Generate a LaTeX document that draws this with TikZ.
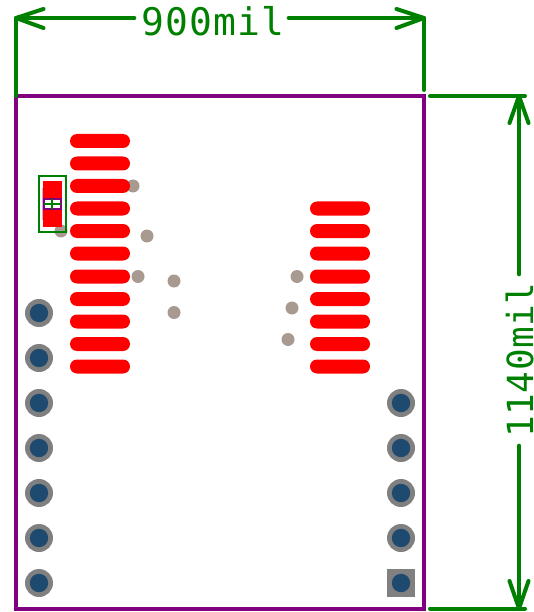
\documentclass[tikz,border=0pt]{standalone}
\usepackage{fontspec}
\newfontfamily\dimfont[LetterSpace=3]{DejaVu Sans Mono}
\newfontfamily\dimfontv[LetterSpace=1.5]{DejaVu Sans Mono}
\definecolor{dimgreen}{HTML}{008000}
\definecolor{outline}{HTML}{800080}
\definecolor{padred}{HTML}{FF0000}
\definecolor{ringgray}{HTML}{808080}
\definecolor{holeblue}{HTML}{1F4A70}
\definecolor{viagray}{HTML}{A89A90}
\tikzset{
  dimline/.style={draw=dimgreen,line width=4pt,line cap=round,line join=round},
  dimtext/.style={text=dimgreen,inner sep=0pt,anchor=base},
  boardedge/.style={draw=outline,line width=4pt,line join=miter},
  smdpad/.style={fill=padred,rounded corners=7pt},
  ring/.style={fill=ringgray},
  hole/.style={fill=holeblue},
  viadot/.style={fill=viagray},
}
\begin{document}
\begin{tikzpicture}[x=1pt,y=-1pt]
\useasboundingbox (0,0) rectangle (534,612);
% vias (under pads)
\foreach \x/\y in {133/186,147/236,61/231,138/276.5,174/281,174/312.5,297/276.5,292/308,288/339.5}
  \fill[viadot] (\x,\y) circle (6.5);
% SMD pads
\foreach \y in {141,163.5,186,208.5,231,253.5,276.5,299,321.5,344,366.5}
  \fill[smdpad] (70,\y-7) rectangle (130,\y+7);
\foreach \y in {208.5,231,253.5,276.5,299,321.5,344,366.5}
  \fill[smdpad] (310,\y-7) rectangle (370,\y+7);
% small part
\fill[padred] (43,181) rectangle (62,227);
\draw[draw=outline!35,line width=1pt] (42.5,188) -- (42.5,220);
\draw[fill=white,draw=outline,line width=1.2pt] (44,199) rectangle (61,209);
\draw[draw=dimgreen,line width=2pt] (39,176.5) rectangle (66,231.5);
\draw[draw=dimgreen,line width=1.8pt] (44,204) -- (61,204) (52,199) -- (52,209);
% through holes
\foreach \y in {313,358,403,448,493,538,583} {
  \fill[ring] (39,\y) circle (14);
  \fill[hole] (39,\y) circle (9.2);
}
\foreach \y in {403,448,493,538} {
  \fill[ring] (401,\y) circle (14);
  \fill[hole] (401,\y) circle (9.2);
}
\fill[ring] (387,569) rectangle (415,597);
\fill[hole] (401,583) circle (9.2);
% board outline
\draw[boardedge] (16,96) rectangle (424,608.5);
% labels
\node[dimtext,font=\dimfont\fontsize{38}{38}\selectfont] (wlabel) at (213,36) {900mil};
\node[dimtext,rotate=90,font=\dimfontv\fontsize{36}{36}\selectfont] (hlabel) at (533,360) {1140mil};
% dimension width
\coordinate (wl) at (16,18);
\coordinate (wr) at (424,18);
\coordinate (wlb) at (16,96);
\coordinate (wrb) at (424,90);
\draw[dimline] (wlb) -- (wl);
\draw[dimline] (wrb) -- (wr);
\draw[dimline,shorten >=7pt] (wl) -- (wl -| wlabel.west);
\draw[dimline,shorten >=4pt] (wr) -- (wr -| wlabel.east);
\draw[dimline] (43.5,9) -- (wl) -- (43.5,28);
\draw[dimline] (396.5,9) -- (wr) -- (396.5,28);
% dimension height
\coordinate (ht) at (519,96);
\coordinate (hb) at (519,608.5);
\draw[dimline] (430,96) -- (525,96);
\draw[dimline] (430,608.5) -- (525,608.5);
\draw[dimline,shorten >=8pt] (ht) -- (ht |- hlabel.east);
\draw[dimline,shorten >=8pt] (hb) -- (hb |- hlabel.west);
\draw[dimline] (509.5,123) -- (ht) -- (528.5,123);
\draw[dimline] (509.5,581) -- (hb) -- (528.5,581);
\end{tikzpicture}
\end{document}
